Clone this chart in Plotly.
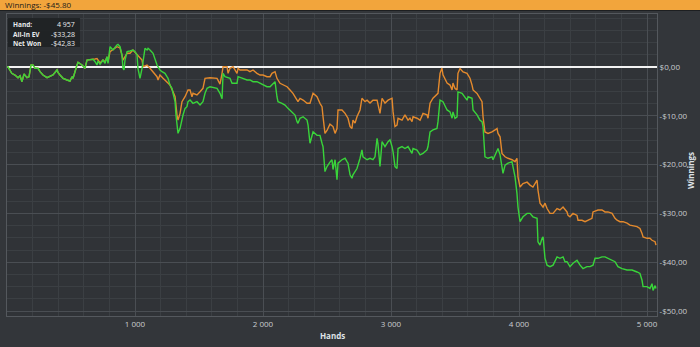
import plotly.graph_objects as go

# ---------------- data ----------------
net_hands = [
    0, 8, 37, 62, 86, 102, 117, 133, 156, 172,
    188, 203, 219, 242, 258, 281, 313, 336, 359, 391,
    398, 414, 438, 469, 492, 508, 516, 547, 555, 586,
    609, 625, 648, 672, 688, 703, 711, 727, 750, 766,
    781, 789, 805, 828, 859, 867, 883, 898, 906, 914,
    922, 938, 961, 984, 1000, 1016, 1023, 1039, 1055, 1063,
    1078, 1094, 1102, 1117, 1141, 1172, 1180, 1195, 1211, 1234,
    1250, 1258, 1273, 1289, 1297, 1313, 1320, 1328, 1336, 1352,
    1367, 1375, 1391, 1406, 1414, 1430, 1453, 1484, 1508, 1531,
    1547, 1563, 1586, 1609, 1641, 1664, 1680, 1688, 1703, 1742,
    1758, 1781, 1797, 1805, 1836, 1875, 1898, 1922, 1953, 1977,
    2000, 2031, 2055, 2078, 2094, 2109, 2117, 2148, 2172, 2195,
    2227, 2250, 2266, 2273, 2289, 2313, 2344, 2352, 2367, 2391,
    2422, 2445, 2461, 2469, 2484, 2500, 2523, 2539, 2547, 2563,
    2578, 2586, 2617, 2641, 2656, 2664, 2680, 2695, 2703, 2734,
    2758, 2773, 2781, 2813, 2836, 2859, 2875, 2891, 2898, 2914,
    2930, 2953, 2977, 2992, 3008, 3016, 3031, 3047, 3055, 3086,
    3109, 3133, 3164, 3172, 3203, 3227, 3250, 3281, 3289, 3305,
    3328, 3359, 3367, 3383, 3406, 3438, 3461, 3477, 3484, 3500,
    3516, 3523, 3555, 3578, 3594, 3602, 3633, 3641, 3672, 3695,
    3711, 3719, 3734, 3758, 3789, 3797, 3828, 3836, 3852, 3867,
    3875, 3891, 3914, 3945, 3953, 3969, 3984, 3992, 4008, 4031,
    4063, 4086, 4109, 4141, 4148, 4164, 4180, 4188, 4203, 4219,
    4242, 4266, 4297, 4320, 4344, 4359, 4375, 4398, 4422, 4453,
    4477, 4500, 4531, 4555, 4578, 4594, 4617, 4648, 4672, 4695,
    4727, 4750, 4773, 4805, 4844, 4883, 4922, 4945, 4961, 4969,
    5000, 5023, 5039, 5047, 5063, 5070,
]
net_won = [
    0, 0, -1.29, -1.64, -2.19, -1.78, -3.01, -1.43, -2.19, -1.99,
    0.41, 0.41, -0.27, -0.27, -0.96, -1.64, -2.19, -1.99, -1.64, -0.61,
    -1.09, -1.64, -2.32, -2.66, -2.87, -1.99, -2.32, 0.41, 0.96, 0.41,
    -0.27, 1.43, 1.43, 1.58, 1.09, 0.41, 1.23, 0.55, 1.43, 0.76,
    2.11, 0.76, 4.16, 3.48, 4.51, 4.65, 4.16, 2.46, -0.27, -0.61,
    1.43, 3.14, 3.28, 3.48, 3.14, 2.46, -0.27, -2.32, -0.27, 1.09,
    3.83, 3.48, 3.83, 3.48, 2.81, 0.41, 0.06, -0.61, -0.96, -1.29,
    -1.99, -2.32, -3.69, -4.37, -5.39, -7.11, -9.84, -12.56, -13.59, -12.56,
    -10.51, -9.84, -8.47, -8.14, -7.11, -6.77, -7.44, -7.11, -7.79, -7.11,
    -5.39, -4.37, -4.04, -4.24, -4.37, -5.39, -6.5, -1.29, -1.99, -2.32,
    -3.34, -3.34, -3.34, -1.99, -2.32, -2.66, -2.66, -3.01, -3.01, -3.34,
    -3.69, -4.04, -4.04, -3.34, -3.01, -6.09, -7.11, -7.44, -7.79, -8.47,
    -9.16, -9.84, -11.21, -11.54, -10.51, -10.19, -10.87, -11.89, -15.63, -13.26,
    -14.0, -14.0, -15.63, -16.33, -21.43, -20.39, -19.5, -19.0, -21.0, -19.0,
    -23.1, -19.7, -19.0, -18.7, -19.4, -19.7, -22.1, -22.8, -22.1, -20.8,
    -18.7, -17.0, -18.4, -19.0, -18.7, -19.0, -18.4, -14.6, -15.7, -20.4,
    -15.3, -16.3, -15.3, -14.9, -16.3, -17.4, -20.4, -20.8, -16.7, -16.3,
    -16.7, -16.3, -17.7, -16.7, -17.0, -18.0, -17.7, -17.0, -16.3, -13.3,
    -12.9, -12.6, -11.2, -6.8, -7.1, -8.8, -9.2, -10.5, -9.2, -10.5,
    -10.2, -5.1, -5.4, -6.1, -6.8, -6.1, -6.4, -8.8, -9.8, -10.9,
    -11.2, -12.2, -18.4, -18.7, -18.4, -19.0, -17.0, -16.7, -18.0, -20.4,
    -21.8, -20.1, -19.7, -19.4, -20.4, -22.5, -25.9, -28.7, -31.7, -30.7,
    -30.0, -30.0, -30.7, -31.0, -35.8, -36.5, -35.1, -34.8, -39.2, -40.6,
    -40.9, -40.6, -38.9, -39.2, -38.9, -39.9, -39.9, -40.9, -40.2, -39.6,
    -40.6, -41.3, -40.9, -40.9, -40.6, -39.2, -39.2, -38.9, -38.9, -39.2,
    -39.6, -39.9, -40.9, -41.3, -41.6, -41.6, -42.0, -42.3, -43.7, -45.0,
    -45.0, -45.4, -44.4, -45.8, -44.8, -45.4,
]

ev_hands = [
    0, 8, 37, 62, 86, 102, 117, 133, 156, 172,
    188, 203, 219, 242, 258, 281, 313, 336, 359, 391,
    398, 414, 438, 469, 492, 508, 516, 547, 555, 586,
    609, 625, 648, 672,
    688, 703, 727, 750, 766, 781, 789, 805, 859, 883,
    898, 906, 938, 961, 984, 1016, 1039, 1055, 1063, 1094,
    1117, 1141, 1172, 1180, 1195, 1219, 1250, 1273, 1297, 1313,
    1328, 1336, 1352, 1367, 1391, 1414, 1430, 1445, 1453, 1484,
    1508, 1531, 1547, 1586, 1641, 1664, 1680, 1688, 1719, 1727,
    1742, 1766, 1797, 1805, 1820, 1875, 1898, 1922, 1953, 1977,
    2000, 2031, 2055, 2070, 2094, 2109, 2133, 2156, 2188, 2211,
    2234, 2266, 2273, 2289, 2313, 2344, 2367, 2391, 2422, 2445,
    2461, 2469, 2484, 2500, 2523, 2547, 2563, 2578, 2586, 2617,
    2641, 2664, 2680, 2695, 2703, 2719, 2734, 2758, 2773, 2797,
    2813, 2836, 2859, 2891, 2898, 2914, 2930, 2953, 2977, 3008,
    3016, 3031, 3047, 3055, 3086, 3109, 3133, 3148, 3164, 3172,
    3203, 3227, 3250, 3281, 3289, 3305, 3328, 3367, 3383, 3398,
    3406, 3438, 3461, 3477, 3484, 3500, 3516, 3523, 3539, 3563,
    3594, 3617, 3633, 3641, 3672, 3695, 3711, 3719, 3734, 3758,
    3789, 3813, 3828, 3836, 3852, 3867, 3891, 3914, 3945, 3969,
    3984, 3992, 4008, 4031, 4063, 4086, 4109, 4141, 4148, 4164,
    4188, 4203, 4219, 4242, 4266, 4297, 4320, 4344, 4375, 4383,
    4398, 4422, 4453, 4461, 4492, 4516, 4539, 4570, 4578, 4617,
    4648, 4672, 4695, 4727, 4750, 4766, 4789, 4813, 4844, 4867,
    4922, 4945, 4961, 4969, 5000, 5023, 5039, 5063, 5070,
]
all_in_ev = [
    0, 0, -1.29, -1.64, -2.19, -1.78, -3.01, -1.43, -2.19, -1.99,
    0.41, 0.41, -0.27, -0.27, -0.96, -1.64, -2.19, -1.99, -1.64, -0.61,
    -1.09, -1.64, -2.32, -2.66, -2.87, -1.99, -2.32, 0.41, 0.96, 0.41,
    -0.27, 1.43, 1.43, 1.58,
    1.64, 1.74, 0.82, 1.43, 1.02, 2.05, 1.02, 3.14, 4.16, 3.9,
    2.46, 1.43, 2.81, 2.81, 3.48, 2.46, 1.84, 1.43, 0.06, 0.41,
    -0.27, -0.96, -1.99, -2.66, -1.64, -2.32, -3.01, -3.69, -5.06, -6.09,
    -9.84, -10.87, -9.5, -7.11, -6.09, -4.71, -4.71, -6.09, -5.39, -5.74,
    -5.06, -4.37, -2.32, -2.19, -2.32, -3.5, -1.3, 0.06, 0.06, -1.29,
    -0.27, 0.06, -1.29, -0.27, -0.61, -0.61, -0.96, -0.61, -1.29, -1.64,
    -1.64, -1.99, -1.99, -1.29, -0.96, -2.32, -3.34, -3.69, -4.04, -4.71,
    -5.39, -6.77, -7.11, -6.43, -6.77, -7.44, -7.44, -5.39, -6.09, -7.44,
    -8.14, -10.19, -13.6, -13.0, -11.7, -12.2, -13.6, -12.6, -8.8, -8.8,
    -9.5, -10.5, -12.2, -12.6, -10.9, -11.5, -10.2, -8.8, -6.4, -7.1,
    -6.8, -7.4, -6.8, -6.8, -7.8, -9.5, -6.4, -7.4, -6.8, -6.4,
    -9.2, -12.2, -11.9, -10.5, -10.9, -9.8, -10.9, -10.5, -11.2, -10.2,
    -10.5, -10.9, -9.5, -9.8, -10.5, -7.4, -6.4, -5.4, -1.3, -0.2,
    -1.6, -3.3, -3.7, -4.7, -3.3, -4.4, -4.7, -1.3, -0.3, -1.0,
    -1.3, -2.3, -3.7, -4.7, -5.4, -6.4, -7.1, -10.2, -13.3, -13.6,
    -13.3, -12.9, -12.6, -13.6, -14.3, -17.7, -18.4, -18.7, -19.0, -19.4,
    -18.7, -22.5, -24.6, -23.9, -23.6, -24.2, -24.6, -23.2, -25.2, -27.9,
    -28.7, -27.9, -29.0, -30.0, -30.0, -29.0, -29.3, -28.7, -29.7, -30.4,
    -30.7, -30.0, -30.4, -31.4, -31.4, -31.7, -31.4, -31.0, -29.7, -29.3,
    -29.3, -29.7, -29.7, -30.0, -31.0, -31.4, -31.7, -31.7, -32.0, -32.4,
    -32.7, -33.1, -34.1, -34.8, -35.1, -35.1, -35.5, -35.8, -36.5,
]

x_tickvals = [1000, 2000, 3000, 4000, 5000]
x_ticktext = ["1 000", "2 000", "3 000", "4 000", "5 000"]
y_tickvals = [0, -10, -20, -30, -40, -50]
y_ticktext = ["$0,00", "-$10,00", "-$20,00", "-$30,00", "-$40,00", "-$50,00"]

title_text = "Winnings: -$45.80"
info_labels = ["Hand:", "All-In EV", "Net Won"]
info_values = ["4 957", "-$33,28", "-$42,83"]

# ---------------- figure ----------------
FONT = "Open Sans, DejaVu Sans, sans-serif"
BG = "#33363a"
PLOT_BG = "#303337"
ORANGE = "#e48a2d"
GREEN = "#39d43a"

fig = go.Figure()
fig.add_trace(go.Scatter(x=ev_hands, y=all_in_ev, mode="lines",
                         line=dict(color=ORANGE, width=1.4), name="All-In EV",
                         hoverinfo="skip"))
fig.add_trace(go.Scatter(x=net_hands, y=net_won, mode="lines",
                         line=dict(color=GREEN, width=1.4), name="Net Won",
                         hoverinfo="skip"))

W, H = 700, 347
ml, mr, mt, mb = 7, 43, 14, 31
pw, ph = W - ml - mr, H - mt - mb


def px_x(px):
    return (px - ml) / pw


def px_y(py):
    return 1 - (py - mt) / ph


fig.update_layout(
    width=W, height=H,
    margin=dict(l=ml, r=mr, t=mt, b=mb, pad=0),
    paper_bgcolor=BG, plot_bgcolor=PLOT_BG,
    showlegend=False,
    font=dict(family=FONT, size=8, color="#c9ccd0"),
    xaxis=dict(range=[0, 5078], tickvals=x_tickvals, ticktext=x_ticktext,
               showgrid=True, gridcolor="#4a4e53", gridwidth=1,
               minor=dict(dtick=200, tick0=0, showgrid=True, gridcolor="#3b3f43"),
               zeroline=False, showline=True, mirror=True, linecolor="#54585d",
               ticks="", tickfont=dict(size=8, color="#c9ccd0"), fixedrange=True),
    yaxis=dict(range=[-51.02, 10.86], side="right", tickvals=y_tickvals,
               ticktext=y_ticktext, showgrid=True, gridcolor="#4a4e53",
               minor=dict(dtick=2.5, tick0=0, showgrid=True, gridcolor="#3b3f43"),
               zeroline=True, zerolinecolor="#f2f2f2", zerolinewidth=2,
               showline=True, mirror=True, linecolor="#54585d",
               ticks="", tickfont=dict(size=8, color="#c9ccd0"), fixedrange=True),
)

shapes = [
    # title bar
    dict(type="rect", xref="paper", yref="paper",
         x0=px_x(0), x1=px_x(W), y0=px_y(10), y1=px_y(0),
         fillcolor="#f2a53c", line=dict(width=0), layer="above"),
    dict(type="line", xref="paper", yref="paper",
         x0=px_x(0), x1=px_x(W), y0=px_y(10.5), y1=px_y(10.5),
         line=dict(color="#1d1f21", width=1), layer="above"),
    # info box
    dict(type="rect", xref="paper", yref="paper",
         x0=px_x(8), x1=px_x(80), y0=px_y(47), y1=px_y(18),
         fillcolor="#202224", opacity=0.92, line=dict(width=0), layer="above"),
]

annotations = [
    dict(text=title_text, xref="paper", yref="paper", x=px_x(3), y=px_y(5),
         xanchor="left", yanchor="middle", showarrow=False,
         font=dict(size=8, color="#1b1b1b", family=FONT)),
    dict(text="<b>Hands</b>", xref="paper", yref="paper", x=px_x(332), y=px_y(336),
         xanchor="center", yanchor="middle", showarrow=False,
         font=dict(size=8, color="#dfe2e6", family=FONT)),
    dict(text="<b>Winnings</b>", xref="paper", yref="paper", x=px_x(690), y=px_y(170),
         xanchor="center", yanchor="middle", showarrow=False, textangle=-90,
         font=dict(size=8, color="#dfe2e6", family=FONT)),
]
rows_y = [25, 34, 43]
for lab, val, ry in zip(info_labels, info_values, rows_y):
    annotations.append(dict(text="<b>" + lab + "</b>", xref="paper", yref="paper",
                            x=px_x(11), y=px_y(ry), xanchor="left", yanchor="middle",
                            showarrow=False,
                            font=dict(size=6.5, color="#e8eaec", family=FONT)))
    annotations.append(dict(text=val, xref="paper", yref="paper",
                            x=px_x(77), y=px_y(ry), xanchor="right", yanchor="middle",
                            showarrow=False,
                            font=dict(size=7, color="#e8eaec", family=FONT)))

fig.update_layout(shapes=shapes, annotations=annotations)
fig.write_html("out.html", config={"displayModeBar": False})
